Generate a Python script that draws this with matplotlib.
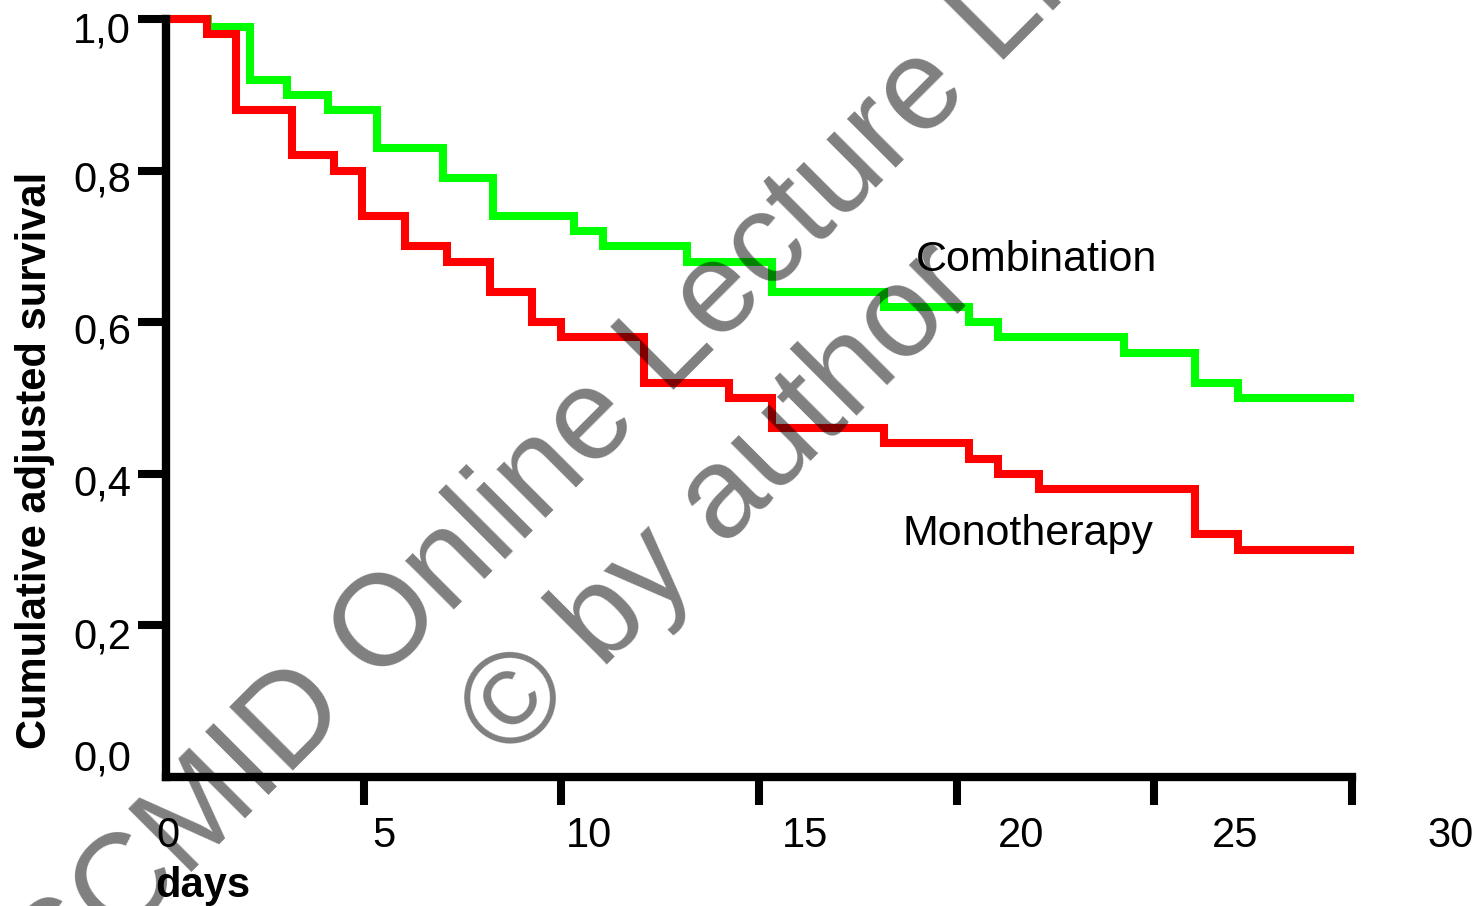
import matplotlib
matplotlib.use('Agg')
from matplotlib import pyplot as plt

# adjusted survival curves, day of each step and survival after it
combo_days = [0, 1.06, 2.12, 3.06, 4.10, 5.34, 7.01, 8.28, 10.32, 11.05, 13.18,
              15.33, 18.16, 20.31, 21.05, 24.23, 26.03, 27.12, 29.95]
combo_surv = [1.0, 0.99, 0.92, 0.90, 0.88, 0.83, 0.79, 0.74, 0.72, 0.70, 0.68,
              0.64, 0.62, 0.60, 0.58, 0.56, 0.52, 0.50, 0.50]
mono_days = [0, 1.04, 1.77, 3.19, 4.25, 4.96, 6.05, 7.11, 8.20, 9.26, 9.99,
             12.09, 14.24, 15.33, 18.16, 20.31, 21.05, 22.08, 26.03, 27.12, 29.95]
mono_surv = [1.0, 0.98, 0.88, 0.82, 0.80, 0.74, 0.70, 0.68, 0.64, 0.60, 0.58,
             0.52, 0.50, 0.46, 0.44, 0.42, 0.40, 0.38, 0.32, 0.30, 0.30]

x_ticks = [0, 5, 10, 15, 20, 25, 30]
x_labels = ['0', '5', '10', '15', '20', '25', '30']
y_ticks = [0.0, 0.2, 0.4, 0.6, 0.8, 1.0]
y_labels = ['0,0', '0,2', '0,4', '0,6', '0,8', '1,0']

# label nudges in pixels (the labels on this slide do not sit on their ticks)
x_label_dx = [2, 20, 28, 46, 64, 81, 99]
y_label_dy = [6, -23, -22, -21, -21, -23]


def main():
    plt.rcParams['font.family'] = ['Liberation Sans', 'DejaVu Sans']
    fig = plt.figure(figsize=(14.83, 9.06), dpi=100)
    ax = fig.add_axes([166 / 1483, 129 / 906, 1186 / 1483, 758 / 906])

    ax.plot(combo_days, combo_surv, drawstyle='steps-post', color='#00ff00',
            lw=5.8, solid_joinstyle='miter', clip_on=False, zorder=3)
    ax.plot(mono_days, mono_surv, drawstyle='steps-post', color='#ff0000',
            lw=5.8, solid_joinstyle='miter', clip_on=False, zorder=4)

    ax.set_xlim(0, 30)
    ax.set_ylim(0, 1)
    for s in ['top', 'right']:
        ax.spines[s].set_visible(False)
    for s in ['left', 'bottom']:
        ax.spines[s].set_linewidth(6)
        ax.spines[s].set_zorder(5)
    ax.set_xticks(x_ticks[1:])
    ax.set_yticks(y_ticks[1:])
    ax.tick_params(length=20, width=5.8, color='black',
                   labelbottom=False, labelleft=False)

    for x, lab, dx in zip(x_ticks, x_labels, x_label_dx):
        ax.annotate(lab, xy=(x, 0), xycoords=('data', 'axes fraction'),
                    xytext=(dx, -70), textcoords='offset pixels',
                    ha='center', va='baseline', fontsize=30)
    for y, lab, dy in zip(y_ticks, y_labels, y_label_dy):
        ax.annotate(lab, xy=(0, y), xycoords=('axes fraction', 'data'),
                    xytext=(-35, dy), textcoords='offset pixels',
                    ha='right', va='baseline', fontsize=30)

    ax.text(18.97, 0.6675, 'Combination', fontsize=31, ha='left', va='baseline')
    ax.text(18.62, 0.306, 'Monotherapy', fontsize=31, ha='left', va='baseline')

    fig.text(46 / 1483, 1 - 460 / 906, 'Cumulative adjusted survival',
             fontsize=30, fontweight='bold', rotation=90, rotation_mode='anchor',
             ha='center', va='baseline')
    fig.text(155 / 1483, 1 - 897 / 906, 'days', fontsize=30, fontweight='bold',
             ha='left', va='baseline')

    # watermark across the plot
    wm = dict(fontsize=93, rotation=45, rotation_mode='anchor', ha='center',
              va='baseline', color='black', alpha=0.5, zorder=10)
    fig.text(636 / 1483, 1 - 427 / 906, 'ESCMID Online Lecture Library', **wm)
    fig.text(746 / 1483, 1 - 526 / 906, '\u00a9 by author', **wm)

    fig.savefig('out.png', dpi=100)


if __name__ == '__main__':
    main()
